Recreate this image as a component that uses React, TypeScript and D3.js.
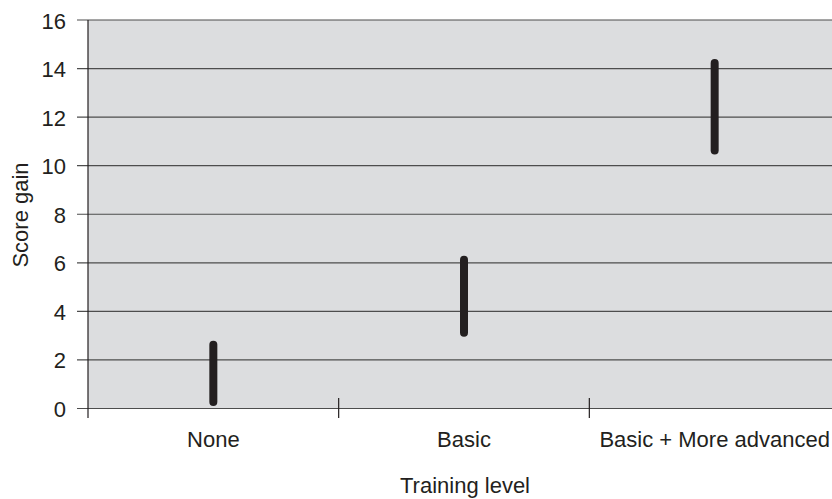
import React, { useEffect, useRef } from 'react';
import * as d3 from 'd3';

const categories = ['None', 'Basic', 'Basic + More advanced'];
const lowValues = [0.27, 3.12, 10.63];
const highValues = [2.63, 6.13, 14.23];
const yTicks = [0, 2, 4, 6, 8, 10, 12, 14, 16];

export default function App() {
    const ref = useRef<SVGSVGElement>(null);

    useEffect(() => {
        const svg = d3.select(ref.current);
        svg.selectAll('*').remove();

        const left = 88, right = 840, top = 20, bottom = 408.5;
        const font = 'Arial, "Liberation Sans", Helvetica, sans-serif';
        const fs = 22;

        const x = d3.scaleBand<string>()
            .domain(categories)
            .range([left, right])
            .padding(0);

        const y = d3.scaleLinear()
            .domain([0, 16])
            .range([bottom, top]);

        // plot background
        svg.append('rect')
            .attr('x', left)
            .attr('y', top)
            .attr('width', right - left)
            .attr('height', bottom - top)
            .attr('fill', '#dcdddf');

        // gridlines + tick marks
        svg.append('g')
            .selectAll('line')
            .data(yTicks)
            .join('line')
            .attr('x1', 77)
            .attr('x2', right)
            .attr('y1', d => y(d))
            .attr('y2', d => y(d))
            .attr('stroke', '#4d4d4d')
            .attr('stroke-width', 1.2);

        // y labels
        svg.append('g')
            .selectAll('text')
            .data(yTicks)
            .join('text')
            .attr('x', 66)
            .attr('y', d => y(d) + 8.5)
            .attr('text-anchor', 'end')
            .attr('font-family', font)
            .attr('font-size', fs)
            .attr('fill', '#231f20')
            .text(d => d);

        // y axis line
        svg.append('line')
            .attr('x1', left)
            .attr('x2', left)
            .attr('y1', top)
            .attr('y2', 418)
            .attr('stroke', '#231f20')
            .attr('stroke-width', 1.2);

        // x tick marks at band boundaries
        const bounds = categories.slice(1).map(c => x(c) as number);
        svg.append('g')
            .selectAll('line')
            .data(bounds)
            .join('line')
            .attr('x1', d => d)
            .attr('x2', d => d)
            .attr('y1', 398)
            .attr('y2', 418)
            .attr('stroke', '#231f20')
            .attr('stroke-width', 1.2);

        // category labels
        svg.append('g')
            .selectAll('text')
            .data(categories)
            .join('text')
            .attr('x', d => (x(d) as number) + x.bandwidth() / 2)
            .attr('y', 447)
            .attr('text-anchor', 'middle')
            .attr('font-family', font)
            .attr('font-size', fs)
            .attr('fill', '#231f20')
            .text(d => d);

        // range bars
        svg.append('g')
            .selectAll('line')
            .data(categories)
            .join('line')
            .attr('x1', d => (x(d) as number) + x.bandwidth() / 2)
            .attr('x2', d => (x(d) as number) + x.bandwidth() / 2)
            .attr('y1', (d, i) => y(lowValues[i]))
            .attr('y2', (d, i) => y(highValues[i]))
            .attr('stroke', '#231f20')
            .attr('stroke-width', 8)
            .attr('stroke-linecap', 'round');

        // axis titles
        svg.append('text')
            .attr('x', 465)
            .attr('y', 493)
            .attr('text-anchor', 'middle')
            .attr('font-family', font)
            .attr('font-size', fs)
            .attr('fill', '#231f20')
            .text('Training level');

        svg.append('text')
            .attr('transform', 'translate(28,' + 215 + ') rotate(-90)')
            .attr('text-anchor', 'middle')
            .attr('font-family', font)
            .attr('font-size', fs)
            .attr('fill', '#231f20')
            .text('Score gain');
    }, []);

    return (
        <div style={{ position: 'absolute', left: 0, top: 0 }}>
            <svg ref={ref} width={832} height={499} style={{ display: 'block', background: '#fff' }} />
        </div>
    );
}
